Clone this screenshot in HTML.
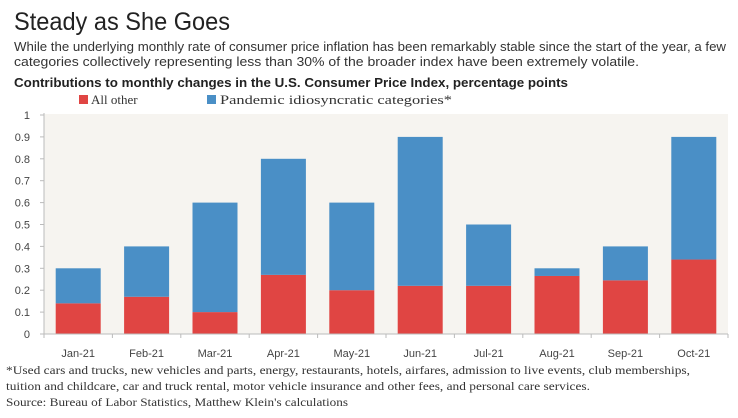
<!DOCTYPE html>
<html><head><meta charset="utf-8"><style>
html,body{margin:0;padding:0;background:#fff;}
svg{display:block;}
</style></head><body>
<svg id="chart" width="738" height="418" xmlns="http://www.w3.org/2000/svg" font-family="Liberation Sans, sans-serif">
<text x="14" y="30" font-size="25" fill="#222" textLength="216" lengthAdjust="spacingAndGlyphs">Steady as She Goes</text>
<text x="14" y="51" font-size="13" fill="#333" textLength="712" lengthAdjust="spacingAndGlyphs">While the underlying monthly rate of consumer price inflation has been remarkably stable since the start of the year, a few</text>
<text x="14" y="66" font-size="13" fill="#333" textLength="625" lengthAdjust="spacingAndGlyphs">categories collectively representing less than 30% of the broader index have been extremely volatile.</text>
<text x="14" y="87" font-size="13" font-weight="bold" fill="#222" textLength="554" lengthAdjust="spacingAndGlyphs">Contributions to monthly changes in the U.S. Consumer Price Index, percentage points</text>
<g font-family="Liberation Serif, serif" font-size="13" fill="#333">
<rect x="79" y="95" width="9" height="9" fill="#e04543"/>
<text x="91" y="104">All other</text>
<rect x="207" y="95" width="9" height="9" fill="#4a8fc6"/>
<text x="220" y="104" textLength="232" lengthAdjust="spacingAndGlyphs">Pandemic idiosyncratic categories*</text>
</g>
<rect x="44" y="114" width="684" height="220" fill="#f6f4f0"/>
<g id="yaxis"></g>
<g id="bars"></g>
<g id="xaxis"></g>
<g font-family="Liberation Serif, serif" font-size="12" fill="#333">
<text x="6" y="374" textLength="684" lengthAdjust="spacingAndGlyphs">*Used cars and trucks, new vehicles and parts, energy, restaurants, hotels, airfares, admission to live events, club memberships,</text>
<text x="6" y="390" textLength="584" lengthAdjust="spacingAndGlyphs">tuition and childcare, car and truck rental, motor vehicle insurance and other fees, and personal care services.</text>
<text x="6" y="406" textLength="342" lengthAdjust="spacingAndGlyphs">Source: Bureau of Labor Statistics, Matthew Klein's calculations</text>
</g>
</svg>
<script>
const categories = ["Jan-21","Feb-21","Mar-21","Apr-21","May-21","Jun-21","Jul-21","Aug-21","Sep-21","Oct-21"];
const allOther = [0.14,0.17,0.10,0.27,0.20,0.22,0.22,0.265,0.245,0.34];
const pandemic = [0.16,0.23,0.50,0.53,0.40,0.68,0.28,0.035,0.155,0.56];
const yTicks = [0,0.1,0.2,0.3,0.4,0.5,0.6,0.7,0.8,0.9,1];
const yTickLabels = ["0","0.1","0.2","0.3","0.4","0.5","0.6","0.7","0.8","0.9","1"];

const NS = "http://www.w3.org/2000/svg";
const x0 = 44, x1 = 728, yBase = 334, yTop = 115;
const band = (x1 - x0) / categories.length;
const xCenter = i => x0 + band * (i + 0.5);
const yScale = v => yBase - (v / 1) * (yBase - yTop);
const barW = 45;
function mk(tag, attrs){ const e = document.createElementNS(NS, tag); for (const k in attrs) e.setAttribute(k, attrs[k]); return e; }

const yg = document.getElementById('yaxis');
const ax = mk('line',{x1:x0,y1:yTop-2,x2:x0,y2:yBase,stroke:'#bbb','stroke-width':1});


yg.appendChild(ax);
yTicks.forEach((t,i)=>{
  const y = yScale(t);
  const tk = mk('line',{x1:x0-4,y1:y,x2:x0,y2:y,stroke:'#bbb'});
  
  
  yg.appendChild(tk);
  const lb = mk('text',{x:30,y:y+4,'font-size':11,fill:'#444','text-anchor':'end'});
  lb.textContent = yTickLabels[i];
  
  
  yg.appendChild(lb);
});

const bg = document.getElementById('bars');
categories.forEach((c,i)=>{
  const cx = xCenter(i);
  const yr = yScale(allOther[i]);
  const r = mk('rect',{x:cx-barW/2,y:yr,width:barW,height:yBase-yr,fill:'#e04543'});
  
  
  bg.appendChild(r);
  const yb = yScale(allOther[i]+pandemic[i]);
  const b = mk('rect',{x:cx-barW/2,y:yb,width:barW,height:yr-yb,fill:'#4a8fc6'});
  
  
  bg.appendChild(b);
});

const xg = document.getElementById('xaxis');
const xl = mk('line',{x1:x0,y1:yBase,x2:x1,y2:yBase,stroke:'#bbb'});


xg.appendChild(xl);
for (let i=0;i<=categories.length;i++){
  const t = mk('line',{x1:x0+band*i,y1:yBase,x2:x0+band*i,y2:yBase+4,stroke:'#bbb'});
  
  
  xg.appendChild(t);
}
categories.forEach((c,i)=>{
  const lb = mk('text',{x:xCenter(i),y:357,'font-size':11,fill:'#444','text-anchor':'middle'});
  lb.textContent = c;
  
  
  xg.appendChild(lb);
});
</script>
</body></html>
